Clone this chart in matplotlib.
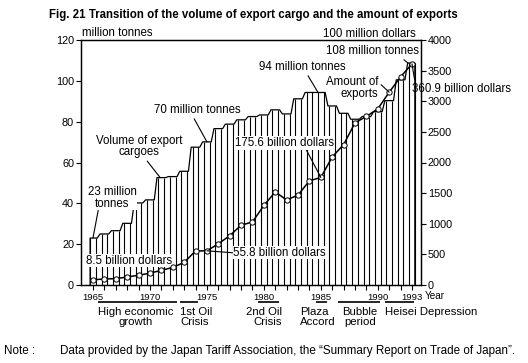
import matplotlib
matplotlib.use("Agg")
import matplotlib.pyplot as plt
import matplotlib.transforms as mtransforms

plt.rcParams['font.family'] = ['Liberation Sans', 'DejaVu Sans']

years = list(range(1965, 1994))
volume = [23, 25, 26.6, 30.2, 40.2, 41.7, 52.6, 53.1, 55.7, 67.5, 70.1, 76.6, 78.8,
          80.9, 82.5, 83.3, 85.8, 83.8, 91.2, 94.3, 94.3, 87.7, 84.1, 81.2, 82.5,
          84.9, 90.3, 100.5, 108.7]
exports = [85, 98, 104, 130, 160, 193, 240, 286, 369, 555, 558, 672, 805, 975,
           1030, 1298, 1520, 1388, 1469, 1701, 1756, 2092, 2292, 2649, 2752, 2876,
           3148, 3399, 3609]
xtick_years = [1965, 1970, 1975, 1980, 1985, 1990, 1993]
left_ticks = [0, 20, 40, 60, 80, 100, 120]
right_ticks = [0, 500, 1000, 1500, 2000, 2500, 3000, 3500, 4000]
periods = [("High economic\ngrowth", 1965.4, 1972.4),
           ("1st Oil\nCrisis", 1972.6, 1974.2),
           ("2nd Oil\nCrisis", 1979.5, 1981.3),
           ("Plaza\nAccord", 1984.6, 1985.5),
           ("Bubble\nperiod", 1986.5, 1990.2),
           ("Heisei Depression", 1990.6, 1993.2)]

W, H = 528, 363
fig = plt.figure(figsize=(W / 100, H / 100), dpi=100)
ax = fig.add_axes([81 / W, 1 - 285 / H, 340 / W, 245 / H])
ax2 = ax.twinx()

FS = 8.3
# bar outline
ox, oy = [years[0] - 0.25], [0]
for x, h in zip(years, volume):
    ox += [x - 0.38 if x != years[0] else x - 0.25, x + 0.38 if x != years[-1] else x + 0.25]
    oy += [h, h]
ox.append(years[-1] + 0.25)
oy.append(0)
ax.fill(ox, oy, color='white', zorder=1)
ax.plot(ox, oy, color='black', lw=0.9, zorder=2)
vx, vh = [], []
for x, h in zip(years, volume):
    vx += [x - 0.25, x + 0.25]
    vh += [h, h]
ax.vlines(vx, 0, vh, color='black', lw=0.8, zorder=2)

ax.set_xlim(1963.95, 1993.79)
ax.set_ylim(0, 120)
ax2.set_ylim(0, 4000)
ax.set_yticks(left_ticks)
ax2.set_yticks(right_ticks)
ax.set_xticks(years)
ax.set_xticklabels([str(y) if y in xtick_years else '' for y in years])
for a in (ax, ax2):
    for s in a.spines.values():
        s.set_linewidth(0.9)
ax.tick_params(axis='both', direction='out', length=3.5, width=0.8, labelsize=7.8, pad=1.5)
ax.tick_params(axis='x', labelsize=6.8, pad=2)
ax2.tick_params(axis='y', direction='out', length=3.5, width=0.8, labelsize=7.8, pad=1.5)

ax2.plot(years, exports, color='black', lw=1.1, marker='o', ms=3.8, mfc='white',
         mec='black', mew=0.7, zorder=5)

bb = dict(boxstyle='square,pad=0.05', fc='white', ec='none')
lp = dict(arrowstyle='-', lw=0.8, color='black', shrinkA=0, shrinkB=0)

def ann(a, text, xy, xytext, relpos, ha='center', ma='center', box=True):
    p = dict(lp)
    p['relpos'] = relpos
    a.annotate(text, xy=xy, xytext=xytext, ha=ha, va='center', multialignment=ma,
               fontsize=FS, linespacing=0.95, bbox=bb if box else None,
               arrowprops=p, annotation_clip=False, zorder=8)

i = years.index
k = 4000 / 120
ann(ax2, "23 million\ntonnes", (1965, volume[0] * k), (1966.67, 42.6 * k), (0.22, 0))
ann(ax2, "Volume of export\ncargoes", (1970.9, volume[i(1971)] * k), (1969.04, 67.8 * k), (0.57, 0), box=False)
ann(ax2, "70 million tonnes", (1975, volume[i(1975)] * k), (1974.13, 85.7 * k), (0.45, 0), box=False)
ann(ax2, "94 million tonnes", (1984.75, volume[i(1985)] * k), (1983.35, 106.8 * k), (0.55, 0), box=False)
ann(ax2, "175.6 billion dollars", (1985, exports[i(1985)]), (1981.77, 2319), (0.72, 0))
ann(ax2, "55.8 billion dollars", (1975, exports[i(1975)]), (1981.37, 526), (0.0, 0.5))
ax2.text(1968.16, 395, "8.5 billion dollars", ha='center', va='center', fontsize=FS, bbox=bb, zorder=4)
ann(ax2, "Amount of\nexports", (1991, exports[i(1991)]), (1987.74, 3215), (1.0, 0.75), ma='right', box=False)
ann(ax2, "108 million tonnes", (1992.65, volume[i(1993)] * k), (1989.54, 114.6 * k), (0.8, 0), box=False)
ann(ax2, "360.9 billion dollars", (1993, exports[i(1993)]), (1997.35, 3207), (0.03, 1.0), box=False)

ax.text(0.003, 1.03, "million tonnes", transform=ax.transAxes, ha='left', va='center', fontsize=FS)
ax.text(0.985, 1.025, "100 million dollars", transform=ax.transAxes, ha='right', va='center', fontsize=FS)
ax.text(1.012, -0.045, "Year", transform=ax.transAxes, ha='left', va='center', fontsize=7.2)

trans = mtransforms.blended_transform_factory(ax.transData, ax.transAxes)
label_pos = {"High economic\ngrowth": (1968.78, 'center', 'center'),
             "1st Oil\nCrisis": (1972.64, 'left', 'left'),
             "2nd Oil\nCrisis": (1980.0, 'center', 'right'),
             "Plaza\nAccord": (1984.71, 'center', 'left'),
             "Bubble\nperiod": (1988.44, 'center', 'center'),
             "Heisei Depression": (1990.63, 'left', 'left')}
for name, x0, x1 in periods:
    ax.plot([x0, x1], [-0.069, -0.069], transform=trans, color='black', lw=1.2,
            clip_on=False, solid_capstyle='butt')
    px, ha, ma = label_pos[name]
    ax.text(px, -0.088, name, transform=trans, ha=ha, va='top', multialignment=ma,
            fontsize=8.2, linespacing=1.05)

fig.text(0.48, 1 - 15 / H, "Fig. 21 Transition of the volume of export cargo and the amount of exports",
         ha='center', va='center', fontsize=8.3, fontweight='bold')
fig.text(4 / W, 1 - 351 / H, "Note :", ha='left', va='center', fontsize=8.4)
fig.text(60 / W, 1 - 351 / H, "Data provided by the Japan Tariff Association, the \u201cSummary Report on Trade of Japan\u201d.",
         ha='left', va='center', fontsize=8.4)

fig.savefig("out.png", dpi=100)
